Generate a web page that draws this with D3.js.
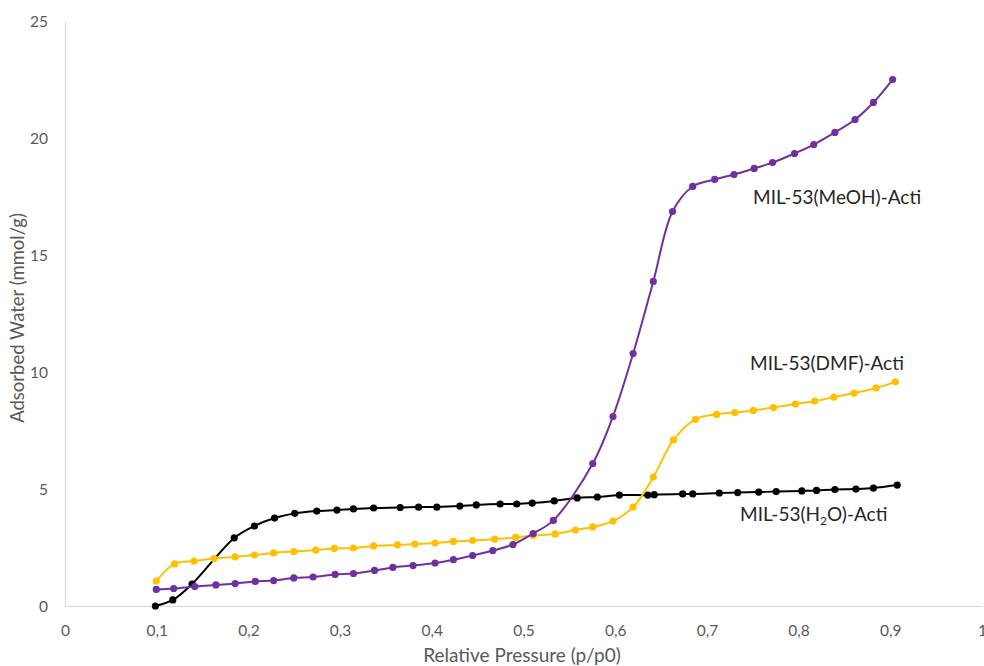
<!DOCTYPE html>
<html>
<head>
<meta charset="utf-8">
<script src="https://cdn.jsdelivr.net/npm/d3@7"></script>
<style>
  body { margin: 0; background: #fff; }
  svg { display: block; font-family: Lato, "Open Sans", sans-serif; }
</style>
</head>
<body>
<svg width="984" height="666"></svg>
<script>
// MIL-53(MeOH)-Acti
const meohP = [0.099, 0.118, 0.141, 0.164, 0.185, 0.207, 0.227, 0.249, 0.270, 0.294, 0.314, 0.337, 0.357, 0.379, 0.403, 0.423, 0.444, 0.466, 0.488, 0.510, 0.532, 0.575, 0.597, 0.619, 0.641, 0.662, 0.684, 0.708, 0.729, 0.751, 0.771, 0.795, 0.816, 0.839, 0.861, 0.881, 0.902];
const meohV = [0.73, 0.77, 0.85, 0.92, 0.98, 1.07, 1.11, 1.22, 1.26, 1.37, 1.41, 1.54, 1.67, 1.75, 1.86, 2.00, 2.18, 2.39, 2.65, 3.12, 3.68, 6.11, 8.12, 10.81, 13.89, 16.88, 17.95, 18.25, 18.46, 18.72, 18.97, 19.36, 19.74, 20.26, 20.81, 21.54, 22.52];

// MIL-53(DMF)-Acti
const dmfP = [0.099, 0.119, 0.140, 0.162, 0.185, 0.206, 0.227, 0.249, 0.273, 0.293, 0.314, 0.336, 0.362, 0.381, 0.403, 0.423, 0.444, 0.468, 0.491, 0.510, 0.534, 0.556, 0.575, 0.597, 0.619, 0.641, 0.663, 0.687, 0.710, 0.730, 0.750, 0.772, 0.796, 0.817, 0.838, 0.860, 0.884, 0.905];
const dmfV = [1.09, 1.82, 1.94, 2.05, 2.12, 2.20, 2.29, 2.35, 2.41, 2.48, 2.50, 2.59, 2.63, 2.67, 2.71, 2.78, 2.82, 2.88, 2.95, 3.03, 3.10, 3.27, 3.40, 3.65, 4.25, 5.53, 7.12, 8.00, 8.21, 8.29, 8.38, 8.50, 8.65, 8.78, 8.95, 9.12, 9.34, 9.60];

// MIL-53(H2O)-Acti
const h2oP = [0.098, 0.117, 0.138, 0.184, 0.206, 0.228, 0.250, 0.274, 0.296, 0.314, 0.336, 0.365, 0.385, 0.405, 0.430, 0.448, 0.474, 0.492, 0.509, 0.533, 0.558, 0.580, 0.604, 0.635, 0.642, 0.673, 0.684, 0.713, 0.733, 0.756, 0.775, 0.803, 0.819, 0.839, 0.862, 0.881, 0.907];
const h2oV = [0.02, 0.28, 0.96, 2.93, 3.44, 3.78, 3.98, 4.08, 4.12, 4.17, 4.21, 4.23, 4.25, 4.25, 4.29, 4.34, 4.38, 4.38, 4.42, 4.51, 4.64, 4.68, 4.76, 4.76, 4.78, 4.81, 4.81, 4.85, 4.87, 4.89, 4.91, 4.94, 4.96, 5.00, 5.02, 5.06, 5.19];

const xTicks = [0, 0.1, 0.2, 0.3, 0.4, 0.5, 0.6, 0.7, 0.8, 0.9, 1];
const yTicks = [0, 5, 10, 15, 20, 25];

const svg = d3.select('svg');

const x = d3.scaleLinear().domain([0, 1]).range([65.5, 982.5]);
const y = d3.scaleLinear().domain([0, 25]).range([606.5, 21.5]);

// axis lines
svg.append('line')
    .attr('x1', x(0)).attr('x2', x(0))
    .attr('y1', y(25)).attr('y2', y(0))
    .attr('stroke', '#d9d9d9').attr('stroke-width', 1.2);
svg.append('line')
    .attr('x1', x(0)).attr('x2', x(1))
    .attr('y1', y(0)).attr('y2', y(0))
    .attr('stroke', '#d9d9d9').attr('stroke-width', 1.2);

// tick labels
svg.selectAll('.xt')
    .data(xTicks)
    .enter()
    .append('text')
    .attr('class', 'xt')
    .attr('x', d => x(d))
    .attr('y', 636)
    .attr('text-anchor', 'middle')
    .attr('fill', '#595959')
    .attr('font-size', 15.5)
    .text(d => d === 0 || d === 1 ? String(d) : d.toFixed(1).replace('.', ','));

svg.selectAll('.yt')
    .data(yTicks)
    .enter()
    .append('text')
    .attr('class', 'yt')
    .attr('x', 48)
    .attr('y', d => y(d) + 5.5)
    .attr('text-anchor', 'end')
    .attr('fill', '#595959')
    .attr('font-size', 15.5)
    .text(d => d);

// axis titles
svg.append('text')
    .attr('x', 522)
    .attr('y', 662)
    .attr('text-anchor', 'middle')
    .attr('fill', '#595959')
    .attr('font-size', 19)
    .text('Relative Pressure (p/p0)');

svg.append('text')
    .attr('transform', 'translate(24,318) rotate(-90)')
    .attr('text-anchor', 'middle')
    .attr('fill', '#595959')
    .attr('font-size', 18.5)
    .text('Adsorbed Water (mmol/g)');

const line = d3.line()
    .x(d => x(d[0]))
    .y(d => y(d[1]))
    .curve(d3.curveCatmullRom.alpha(0.5));

const series = [
    { p: h2oP, v: h2oV, color: '#000000' },
    { p: dmfP, v: dmfV, color: '#ffc000' },
    { p: meohP, v: meohV, color: '#7030a0' }
];

series.forEach(s => {
    const pts = s.p.map((p, i) => [p, s.v[i]]);
    svg.append('path')
        .datum(pts)
        .attr('d', line)
        .attr('fill', 'none')
        .attr('stroke', s.color)
        .attr('stroke-width', 2);
    svg.append('g')
        .selectAll('circle')
        .data(pts)
        .enter()
        .append('circle')
        .attr('cx', d => x(d[0]))
        .attr('cy', d => y(d[1]))
        .attr('r', 3.6)
        .attr('fill', s.color);
});

// series labels
svg.append('text')
    .attr('x', 753).attr('y', 204)
    .attr('fill', '#262626').attr('font-size', 19)
    .text('MIL-53(MeOH)-Acti');

svg.append('text')
    .attr('x', 750).attr('y', 370)
    .attr('fill', '#262626').attr('font-size', 19)
    .text('MIL-53(DMF)-Acti');

const h2oLabel = svg.append('text')
    .attr('x', 740).attr('y', 521)
    .attr('fill', '#262626').attr('font-size', 19);
h2oLabel.append('tspan').text('MIL-53(H');
h2oLabel.append('tspan').attr('font-size', 12).attr('dy', 4).text('2');
h2oLabel.append('tspan').attr('dy', -4).text('O)-Acti');
</script>
</body>
</html>
